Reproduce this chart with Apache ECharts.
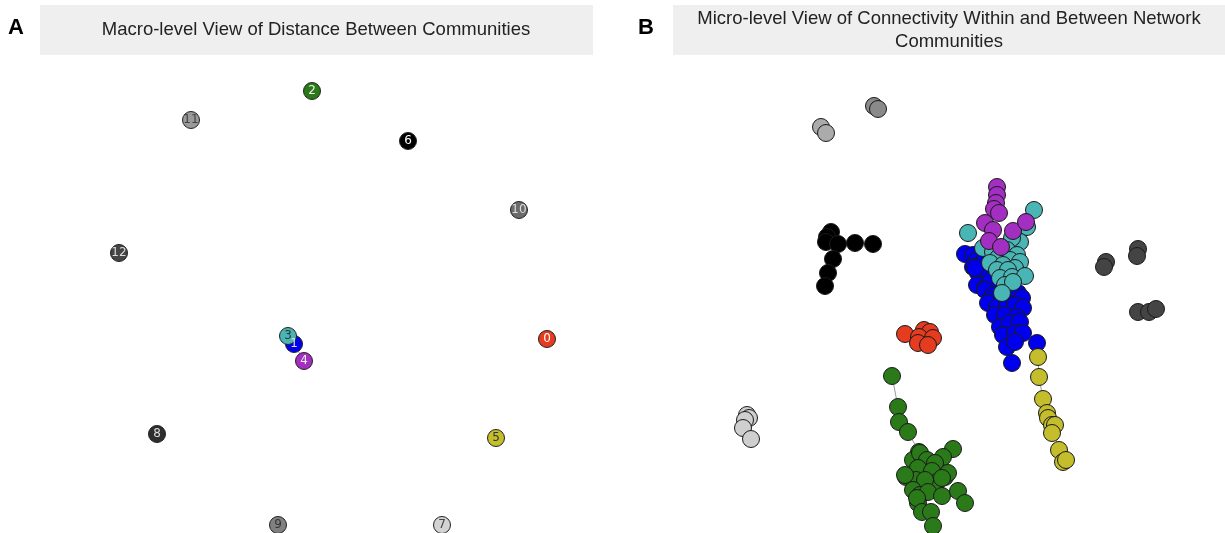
<!DOCTYPE html>
<html><head><meta charset="utf-8">
<script src="https://cdn.jsdelivr.net/npm/echarts@6/dist/echarts.min.js"></script>
<style>html,body{margin:0;padding:0;background:#fff}#c{width:1225px;height:533px}</style>
</head><body><div id="c"></div>
<script>
// ---------- Panel A: community centroids (layout units) ----------
const macroIds = ['0','1','2','3','4','5','6','7','8','9','10','11','12'];
const macroX = [547, 294, 312, 288, 304, 496, 408, 442, 157, 278, 519, 191, 119];
const macroY = [339, 344, 91, 336, 361, 438, 141, 525, 434, 525, 210, 120, 253];
const macroColors = ['#e53b1f','#0000ee','#2b7a1a','#4ab5b5','#a32ec2','#c4bd2c','#000000','#d3d3d3','#2e2e2e','#808080','#6b6b6b','#9a9a9a','#454545'];
const macroLabelColors = ['#fff','#ddd','#eee','#333','#eee','#333','#fff','#444','#ddd','#333','#ddd','#444','#ddd'];
const macroEdges = [[3,1],[1,4]];

// ---------- Panel B: individual nodes (layout units) ----------
const blueNodes = [[965,254],[973,255],[977,260],[983,263],[973,267],[978,273],[987,270],[975,268],[977,285],[985,288],[990,282],[985,290],[993,295],[990,300],[1018,293],[1022,298],[988,303],[997,307],[1007,303],[1015,305],[1023,308],[995,315],[1005,315],[1017,317],[1000,327],[1010,323],[1020,322],[1003,335],[1015,333],[1023,333],[1007,347],[1015,342],[1012,363],[1037,343]];
const tealNodes = [[968,233],[1034,210],[1027,227],[1020,242],[1012,238],[983,248],[993,252],[1007,250],[1017,255],[998,258],[1010,260],[1020,262],[990,263],[1003,265],[1015,268],[997,270],[1008,270],[1000,278],[1012,277],[1025,276],[1005,285],[1013,282],[1002,293]];
const magentaNodes = [[997,187],[997,195],[996,203],[994,209],[999,213],[985,223],[993,230],[1013,231],[1026,222],[989,241],[1001,247]];
const greenNodes = [[892,376],[898,407],[899,422],[908,432],[919,452],[953,449],[943,457],[913,460],[923,458],[933,463],[920,453],[927,460],[935,463],[918,468],[906,477],[916,480],[932,471],[945,477],[948,473],[926,482],[937,482],[905,475],[925,480],[942,478],[913,490],[920,495],[928,492],[942,496],[958,491],[965,503],[918,503],[917,498],[922,512],[931,512],[933,526]];
const redNodes = [[905,334],[924,330],[930,332],[919,337],[933,338],[918,343],[928,345]];
const yellowNodes = [[1038,357],[1039,377],[1043,399],[1047,413],[1048,418],[1052,425],[1055,425],[1052,433],[1059,450],[1063,462],[1066,460]];
const blackNodes = [[831,232],[827,237],[826,242],[838,244],[855,243],[873,244],[833,259],[828,273],[825,286]];
const lightGrayNodes = [[747,415],[749,418],[745,420],[743,428],[751,439]];
const silverNodes = [[821,127],[826,133]];
const midGrayNodes = [[874,106],[878,109]];
const darkGrayNodes = [[1106,262],[1104,267],[1138,249],[1137,256],[1138,312],[1149,312],[1156,309]];
const microEdges = [
  ['green',0,'green',1],['green',1,'green',2],['green',2,'green',3],['green',3,'green',4],
  ['blue',33,'yellow',0],['yellow',0,'yellow',1],['yellow',1,'yellow',2],['yellow',2,'yellow',3],
  ['yellow',3,'yellow',5],['yellow',5,'yellow',8],['yellow',8,'yellow',9],
  ['silver',0,'silver',1],['mid',0,'mid',1],['light',0,'light',4]
];

const groupsB = [
  {key:'blue', nodes: blueNodes, color:'#0000ee'},
  {key:'teal', nodes: tealNodes, color:'#4ab5b5'},
  {key:'magenta', nodes: magentaNodes, color:'#a32ec2'},
  {key:'green', nodes: greenNodes, color:'#2b7a1a'},
  {key:'red', nodes: redNodes, color:'#e53b1f'},
  {key:'yellow', nodes: yellowNodes, color:'#c4bd2c'},
  {key:'black', nodes: blackNodes, color:'#000000'},
  {key:'light', nodes: lightGrayNodes, color:'#cfcfcf'},
  {key:'silver', nodes: silverNodes, color:'#ababab'},
  {key:'mid', nodes: midGrayNodes, color:'#8a8a8a'},
  {key:'dark', nodes: darkGrayNodes, color:'#444444'}
];
const byKey = {};
groupsB.forEach(g => byKey[g.key] = g.nodes);

const chart = echarts.init(document.getElementById('c'), null, {renderer:'canvas'});
const hiddenAxis = {show:false, splitLine:{show:false}};
const series = [];

// Panel A edges
series.push({
  type:'lines', coordinateSystem:'cartesian2d', xAxisIndex:0, yAxisIndex:0, z:1, silent:true,
  lineStyle:{color:'#9a9a9a', width:1, opacity:1},
  data: macroEdges.map(e => ({coords:[[macroX[e[0]],macroY[e[0]]],[macroX[e[1]],macroY[e[1]]]]}))
});
// Panel A nodes
series.push({
  type:'scatter', xAxisIndex:0, yAxisIndex:0, z:3, symbolSize:17,
  itemStyle:{opacity:1},
  data: macroIds.map((id,i) => ({
    value:[macroX[i], macroY[i]], name:id,
    itemStyle:{color:macroColors[i], borderColor:'#222', borderWidth:1, opacity:1},
    label:{show:true, formatter:id, position:'inside', color:macroLabelColors[i], fontSize:12, fontFamily:'DejaVu Sans'}
  }))
});
// Panel B edges
series.push({
  type:'lines', coordinateSystem:'cartesian2d', xAxisIndex:1, yAxisIndex:1, z:1, silent:true,
  lineStyle:{color:'#9a9a9a', width:1, opacity:1},
  data: microEdges.map(e => ({coords:[byKey[e[0]][e[1]], byKey[e[2]][e[3]]]}))
});
// Panel B nodes
groupsB.forEach(g => {
  series.push({
    type:'scatter', name:g.key, xAxisIndex:1, yAxisIndex:1, z:3, symbolSize:17,
    itemStyle:{color:g.color, borderColor:'#1a1a1a', borderWidth:1, opacity:1},
    data: g.nodes
  });
});

chart.setOption({
  animation:false,
  backgroundColor:'#fff',
  grid:[
    {left:0, top:0, width:612, height:533},
    {left:612, top:0, width:613, height:533}
  ],
  xAxis:[
    Object.assign({type:'value', gridIndex:0, min:0, max:612}, hiddenAxis),
    Object.assign({type:'value', gridIndex:1, min:612, max:1225}, hiddenAxis)
  ],
  yAxis:[
    Object.assign({type:'value', gridIndex:0, min:0, max:533, inverse:true}, hiddenAxis),
    Object.assign({type:'value', gridIndex:1, min:0, max:533, inverse:true}, hiddenAxis)
  ],
  graphic:[
    {type:'rect', left:40, top:5, shape:{width:553, height:50}, style:{fill:'#efefef'}, z:0},
    {type:'rect', left:673, top:5, shape:{width:552, height:50}, style:{fill:'#efefef'}, z:0},
    {type:'text', left:8, top:17, style:{text:'A', font:'bold 22px "Liberation Sans", Arial, sans-serif', fill:'#000'}},
    {type:'text', left:638, top:17, style:{text:'B', font:'bold 22px "Liberation Sans", Arial, sans-serif', fill:'#000'}},
    {type:'text', x:316, y:30, style:{text:'Macro-level View of Distance Between Communities', font:'18.5px "Liberation Sans", Arial, sans-serif', fill:'#222', align:'center', verticalAlign:'middle'}},
    {type:'text', x:949, y:30, style:{text:'Micro-level View of Connectivity Within and Between Network\nCommunities', font:'18.5px "Liberation Sans", Arial, sans-serif', fill:'#222', align:'center', verticalAlign:'middle', lineHeight:23}}
  ],
  series: series
});
</script></body></html>
